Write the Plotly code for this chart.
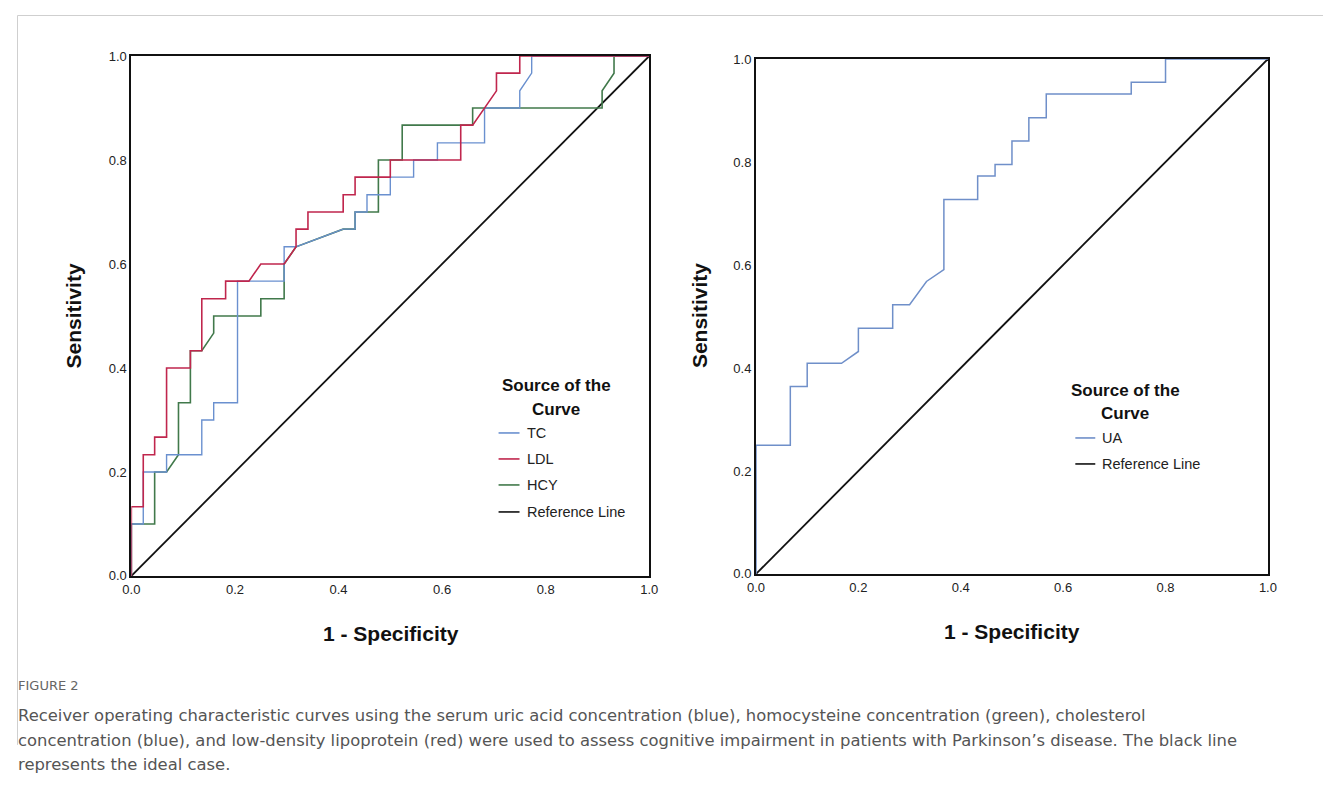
import plotly.graph_objects as go

# ---------------- data ----------------
tc_fpr = [0, 0, 0.023, 0.023, 0.068, 0.068, 0.136, 0.136, 0.159, 0.159, 0.205, 0.205, 0.295, 0.295, 0.318,
          0.409, 0.432, 0.432, 0.455, 0.455, 0.5, 0.5, 0.545, 0.545, 0.591, 0.591, 0.682, 0.682, 0.75, 0.75,
          0.773, 0.773, 1]
tc_tpr = [0, 0.1, 0.1, 0.2, 0.2, 0.233, 0.233, 0.3, 0.3, 0.333, 0.333, 0.567, 0.567, 0.633, 0.633,
          0.667, 0.667, 0.7, 0.7, 0.733, 0.733, 0.767, 0.767, 0.8, 0.8, 0.833, 0.833, 0.9, 0.9, 0.933,
          0.967, 1, 1]

ldl_fpr = [0, 0, 0.023, 0.023, 0.045, 0.045, 0.068, 0.068, 0.114, 0.114, 0.136, 0.136, 0.182, 0.182,
           0.227, 0.25, 0.295, 0.318, 0.318, 0.341, 0.341, 0.409, 0.409, 0.432, 0.432, 0.5, 0.5, 0.636,
           0.636, 0.659, 0.705, 0.705, 0.75, 0.75, 1]
ldl_tpr = [0, 0.133, 0.133, 0.233, 0.233, 0.267, 0.267, 0.4, 0.4, 0.433, 0.433, 0.533, 0.533, 0.567,
           0.567, 0.6, 0.6, 0.633, 0.667, 0.667, 0.7, 0.7, 0.733, 0.733, 0.767, 0.767, 0.8, 0.8,
           0.867, 0.867, 0.933, 0.967, 0.967, 1, 1]

hcy_fpr = [0, 0, 0.045, 0.045, 0.068, 0.091, 0.091, 0.114, 0.114, 0.136, 0.159, 0.159, 0.25, 0.25,
           0.295, 0.295, 0.318, 0.409, 0.432, 0.432, 0.477, 0.477, 0.523, 0.523, 0.659, 0.659, 0.909,
           0.909, 0.932, 0.932, 1]
hcy_tpr = [0, 0.1, 0.1, 0.2, 0.2, 0.233, 0.333, 0.333, 0.433, 0.433, 0.467, 0.5, 0.5, 0.533,
           0.533, 0.6, 0.633, 0.667, 0.667, 0.7, 0.7, 0.8, 0.8, 0.867, 0.867, 0.9, 0.9,
           0.933, 0.967, 1, 1]

ua_fpr = [0, 0, 0.067, 0.067, 0.1, 0.1, 0.167, 0.2, 0.2, 0.267, 0.267, 0.3, 0.333, 0.367, 0.367,
          0.433, 0.433, 0.467, 0.467, 0.5, 0.5, 0.533, 0.533, 0.567, 0.567, 0.733, 0.733, 0.8, 0.8, 1]
ua_tpr = [0, 0.25, 0.25, 0.364, 0.364, 0.409, 0.409, 0.432, 0.477, 0.477, 0.523, 0.523, 0.568, 0.591,
          0.727, 0.727, 0.773, 0.773, 0.795, 0.795, 0.841, 0.841, 0.886, 0.886, 0.932, 0.932, 0.955,
          0.955, 1, 1]

ref_x = [0, 1]
ref_y = [0, 1]

tick_vals = [0, 0.2, 0.4, 0.6, 0.8, 1.0]
tick_text = ["0.0", "0.2", "0.4", "0.6", "0.8", "1.0"]

left_series = ["TC", "LDL", "HCY", "Reference Line"]
right_series = ["UA", "Reference Line"]

# ---------------- styles ----------------
C_TC = "#6a90cf"
C_LDL = "#c0264d"
C_HCY = "#41794b"
C_UA = "#6f8fc9"
C_REF = "#111111"

FW, FH = 1331, 785
# the page is captured with the plot origin at about (15.4, 15.0) and a slight down-scale
OX, OY, SX, SY = 15.4, 15.0, 0.9886, 0.981


def px(x):
    return min(max((x - OX) / SX / FW, 0), 1)


def py(y):
    return min(max(1 - (y - OY) / SY / FH, 0), 1)


fig = go.Figure()

fig.add_trace(go.Scatter(x=ref_x, y=ref_y, mode="lines", line=dict(color=C_REF, width=1.8),
                         xaxis="x", yaxis="y", showlegend=False, cliponaxis=False))
fig.add_trace(go.Scatter(x=hcy_fpr, y=hcy_tpr, mode="lines", line=dict(color=C_HCY, width=1.6),
                         xaxis="x", yaxis="y", showlegend=False, cliponaxis=False))
fig.add_trace(go.Scatter(x=tc_fpr, y=tc_tpr, mode="lines", line=dict(color=C_TC, width=1.4),
                         xaxis="x", yaxis="y", showlegend=False, cliponaxis=False))
fig.add_trace(go.Scatter(x=ldl_fpr, y=ldl_tpr, mode="lines", line=dict(color=C_LDL, width=1.6),
                         xaxis="x", yaxis="y", showlegend=False, cliponaxis=False))

fig.add_trace(go.Scatter(x=ref_x, y=ref_y, mode="lines", line=dict(color=C_REF, width=1.8),
                         xaxis="x2", yaxis="y2", showlegend=False, cliponaxis=False))
fig.add_trace(go.Scatter(x=ua_fpr, y=ua_tpr, mode="lines", line=dict(color=C_UA, width=1.5),
                         xaxis="x2", yaxis="y2", showlegend=False, cliponaxis=False))

tickfont = dict(family="Liberation Sans, Arial, sans-serif", size=13, color="#222")
axis_common = dict(range=[0, 1], tickvals=tick_vals, ticktext=tick_text, showgrid=False,
                   zeroline=False, showline=True, linecolor="#111", linewidth=2, mirror=True,
                   ticks="", tickfont=tickfont, fixedrange=True)

fig.update_layout(
    width=FW, height=FH,
    margin=dict(l=0, r=0, t=0, b=0),
    paper_bgcolor="white", plot_bgcolor="white",
    xaxis=dict(domain=[px(130), px(649)], anchor="y", **axis_common),
    yaxis=dict(domain=[py(576), py(56)], anchor="x", **axis_common),
    xaxis2=dict(domain=[px(756), px(1269)], anchor="y2", **axis_common),
    yaxis2=dict(domain=[py(574), py(59)], anchor="x2", **axis_common),
    showlegend=False,
)

annotations = []
shapes = []
title_font = dict(family="Liberation Sans, Arial, sans-serif", size=21, color="#111")
leg_title = dict(family="Liberation Sans, Arial, sans-serif", size=17, color="#111")
lab = dict(family="Liberation Sans, Arial, sans-serif", size=14.5, color="#222")


def text(x, y, s, font, xanchor="center", angle=0, xabs=None, xshift=0):
    annotations.append(dict(x=px(x) if xabs is None else xabs, y=py(y), xref="paper", yref="paper", text=s,
                            showarrow=False, font=font, xanchor=xanchor, yanchor="middle", textangle=angle,
                            xshift=xshift))


# axis titles
text(390, 634, "<b>1 - Specificity</b>", title_font)
text(1013, 632, "<b>1 - Specificity</b>", title_font)
text(72, 316, "<b>Sensitivity</b>", title_font, angle=-90)
text(700, 316, "<b>Sensitivity</b>", title_font, angle=-90)

# legends (SPSS style)
text(556, 386, "<b>Source of the</b>", leg_title)
text(556, 410, "<b>Curve</b>", leg_title)
left_colors = [C_TC, C_LDL, C_HCY, C_REF]
left_ys = [433, 459, 485, 512]
for name, col, yy in zip(left_series, left_colors, left_ys):
    shapes.append(dict(type="line", xref="paper", yref="paper", x0=px(498), x1=px(519), y0=py(yy), y1=py(yy),
                       line=dict(color=col, width=1.6)))
    text(524, yy, name, lab, xanchor="left")

text(1126, 391, "<b>Source of the</b>", leg_title)
text(1126, 414, "<b>Curve</b>", leg_title)
right_colors = [C_UA, C_REF]
right_ys = [438, 464]
for name, col, yy in zip(right_series, right_colors, right_ys):
    shapes.append(dict(type="line", xref="paper", yref="paper", x0=px(1076), x1=px(1096), y0=py(yy), y1=py(yy),
                       line=dict(color=col, width=1.6)))
    text(1101, yy, name, lab, xanchor="left")

# caption
cap_font = dict(family="DejaVu Sans, sans-serif", size=16.4, color="#555")
text(11, 686, "FIGURE 2", dict(family="DejaVu Sans, sans-serif", size=13, color="#666"),
     xanchor="left", xabs=0, xshift=-1)
text(11, 716, "Receiver operating characteristic curves using the serum uric acid concentration (blue), "
              "homocysteine concentration (green), cholesterol", cap_font, xanchor="left", xabs=0, xshift=-1)
text(11, 741, "concentration (blue), and low-density lipoprotein (red) were used to assess cognitive impairment "
              "in patients with Parkinson’s disease. The black line", cap_font, xanchor="left", xabs=0, xshift=-1)
text(11, 765, "represents the ideal case.", cap_font, xanchor="left", xabs=0, xshift=-1)

# outer frame (top and left rules)
shapes.append(dict(type="line", xref="paper", yref="paper", x0=0.5 / FW, x1=1, y0=1 - 0.5 / FH, y1=1 - 0.5 / FH,
                   line=dict(color="#cfcfcf", width=1)))
shapes.append(dict(type="line", xref="paper", yref="paper", x0=0.5 / FW, x1=0.5 / FW, y0=1 - 0.5 / FH, y1=py(745),
                   line=dict(color="#cfcfcf", width=1)))

fig.update_layout(annotations=annotations, shapes=shapes)

fig.write_html("out.html")
